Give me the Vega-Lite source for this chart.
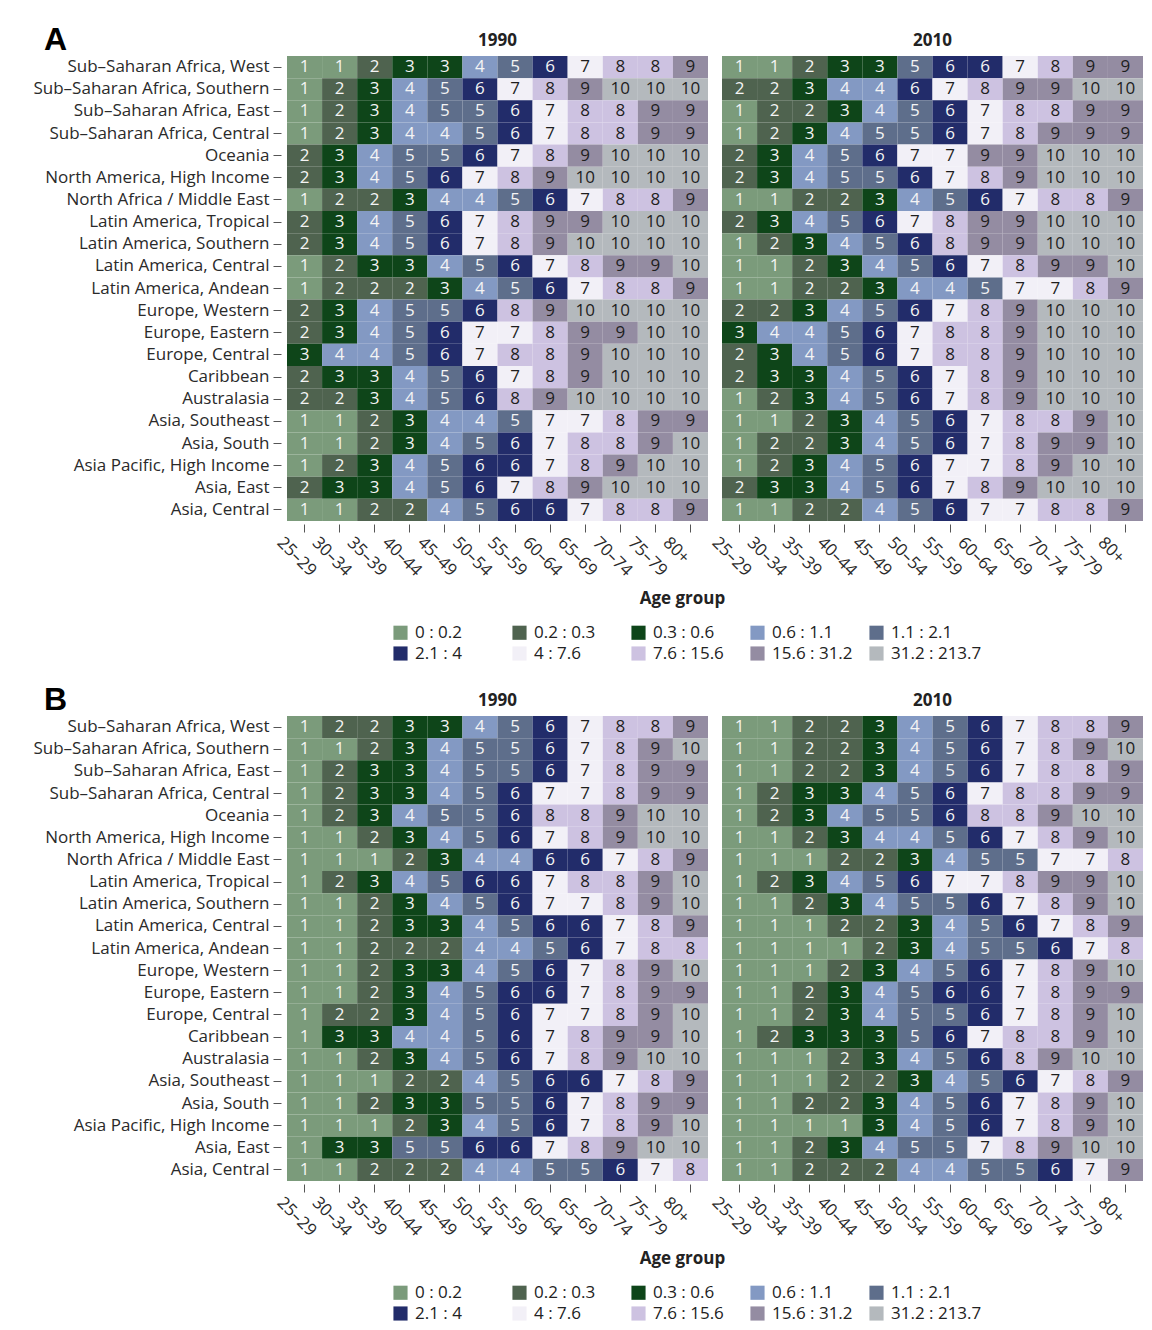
{
"$schema": "https://vega.github.io/schema/vega-lite/v6.json",
"background": "white",
"padding": {"left": 32, "top": 24, "right": 5, "bottom": 3},
"config": {
  "font": "Open Sans",
  "view": {"stroke": null},
  "axis": {"labelFontSize": 17, "labelColor": "#2a2a2a", "tickColor": "#555555", "domain": false, "titleFontSize": 17, "titleFontWeight": "bold", "titleColor": "#222222", "labelLimit": 0},
  "title": {"fontSize": 17, "fontWeight": "bold", "color": "#222222", "offset": 6, "frame": "group"},
  "legend": {"orient": "none", "legendX": 105, "legendY": 568, "direction": "horizontal", "columns": 5, "gridAlign": "all", "symbolType": "square", "symbolSize": 200, "symbolStrokeWidth": 0, "symbolOpacity": 1, "labelFontSize": 17, "labelColor": "#222222", "labelOffset": 6, "columnPadding": 5, "rowPadding": 3}
},
"datasets": {
"A90": [
{"r":"Sub–Saharan Africa, West","a":"25–29","v":1},{"r":"Sub–Saharan Africa, West","a":"30–34","v":1},{"r":"Sub–Saharan Africa, West","a":"35–39","v":2},{"r":"Sub–Saharan Africa, West","a":"40–44","v":3},{"r":"Sub–Saharan Africa, West","a":"45–49","v":3},{"r":"Sub–Saharan Africa, West","a":"50–54","v":4},{"r":"Sub–Saharan Africa, West","a":"55–59","v":5},{"r":"Sub–Saharan Africa, West","a":"60–64","v":6},{"r":"Sub–Saharan Africa, West","a":"65–69","v":7},{"r":"Sub–Saharan Africa, West","a":"70–74","v":8},{"r":"Sub–Saharan Africa, West","a":"75–79","v":8},{"r":"Sub–Saharan Africa, West","a":"80+","v":9},
{"r":"Sub–Saharan Africa, Southern","a":"25–29","v":1},{"r":"Sub–Saharan Africa, Southern","a":"30–34","v":2},{"r":"Sub–Saharan Africa, Southern","a":"35–39","v":3},{"r":"Sub–Saharan Africa, Southern","a":"40–44","v":4},{"r":"Sub–Saharan Africa, Southern","a":"45–49","v":5},{"r":"Sub–Saharan Africa, Southern","a":"50–54","v":6},{"r":"Sub–Saharan Africa, Southern","a":"55–59","v":7},{"r":"Sub–Saharan Africa, Southern","a":"60–64","v":8},{"r":"Sub–Saharan Africa, Southern","a":"65–69","v":9},{"r":"Sub–Saharan Africa, Southern","a":"70–74","v":10},{"r":"Sub–Saharan Africa, Southern","a":"75–79","v":10},{"r":"Sub–Saharan Africa, Southern","a":"80+","v":10},
{"r":"Sub–Saharan Africa, East","a":"25–29","v":1},{"r":"Sub–Saharan Africa, East","a":"30–34","v":2},{"r":"Sub–Saharan Africa, East","a":"35–39","v":3},{"r":"Sub–Saharan Africa, East","a":"40–44","v":4},{"r":"Sub–Saharan Africa, East","a":"45–49","v":5},{"r":"Sub–Saharan Africa, East","a":"50–54","v":5},{"r":"Sub–Saharan Africa, East","a":"55–59","v":6},{"r":"Sub–Saharan Africa, East","a":"60–64","v":7},{"r":"Sub–Saharan Africa, East","a":"65–69","v":8},{"r":"Sub–Saharan Africa, East","a":"70–74","v":8},{"r":"Sub–Saharan Africa, East","a":"75–79","v":9},{"r":"Sub–Saharan Africa, East","a":"80+","v":9},
{"r":"Sub–Saharan Africa, Central","a":"25–29","v":1},{"r":"Sub–Saharan Africa, Central","a":"30–34","v":2},{"r":"Sub–Saharan Africa, Central","a":"35–39","v":3},{"r":"Sub–Saharan Africa, Central","a":"40–44","v":4},{"r":"Sub–Saharan Africa, Central","a":"45–49","v":4},{"r":"Sub–Saharan Africa, Central","a":"50–54","v":5},{"r":"Sub–Saharan Africa, Central","a":"55–59","v":6},{"r":"Sub–Saharan Africa, Central","a":"60–64","v":7},{"r":"Sub–Saharan Africa, Central","a":"65–69","v":8},{"r":"Sub–Saharan Africa, Central","a":"70–74","v":8},{"r":"Sub–Saharan Africa, Central","a":"75–79","v":9},{"r":"Sub–Saharan Africa, Central","a":"80+","v":9},
{"r":"Oceania","a":"25–29","v":2},{"r":"Oceania","a":"30–34","v":3},{"r":"Oceania","a":"35–39","v":4},{"r":"Oceania","a":"40–44","v":5},{"r":"Oceania","a":"45–49","v":5},{"r":"Oceania","a":"50–54","v":6},{"r":"Oceania","a":"55–59","v":7},{"r":"Oceania","a":"60–64","v":8},{"r":"Oceania","a":"65–69","v":9},{"r":"Oceania","a":"70–74","v":10},{"r":"Oceania","a":"75–79","v":10},{"r":"Oceania","a":"80+","v":10},
{"r":"North America, High Income","a":"25–29","v":2},{"r":"North America, High Income","a":"30–34","v":3},{"r":"North America, High Income","a":"35–39","v":4},{"r":"North America, High Income","a":"40–44","v":5},{"r":"North America, High Income","a":"45–49","v":6},{"r":"North America, High Income","a":"50–54","v":7},{"r":"North America, High Income","a":"55–59","v":8},{"r":"North America, High Income","a":"60–64","v":9},{"r":"North America, High Income","a":"65–69","v":10},{"r":"North America, High Income","a":"70–74","v":10},{"r":"North America, High Income","a":"75–79","v":10},{"r":"North America, High Income","a":"80+","v":10},
{"r":"North Africa / Middle East","a":"25–29","v":1},{"r":"North Africa / Middle East","a":"30–34","v":2},{"r":"North Africa / Middle East","a":"35–39","v":2},{"r":"North Africa / Middle East","a":"40–44","v":3},{"r":"North Africa / Middle East","a":"45–49","v":4},{"r":"North Africa / Middle East","a":"50–54","v":4},{"r":"North Africa / Middle East","a":"55–59","v":5},{"r":"North Africa / Middle East","a":"60–64","v":6},{"r":"North Africa / Middle East","a":"65–69","v":7},{"r":"North Africa / Middle East","a":"70–74","v":8},{"r":"North Africa / Middle East","a":"75–79","v":8},{"r":"North Africa / Middle East","a":"80+","v":9},
{"r":"Latin America, Tropical","a":"25–29","v":2},{"r":"Latin America, Tropical","a":"30–34","v":3},{"r":"Latin America, Tropical","a":"35–39","v":4},{"r":"Latin America, Tropical","a":"40–44","v":5},{"r":"Latin America, Tropical","a":"45–49","v":6},{"r":"Latin America, Tropical","a":"50–54","v":7},{"r":"Latin America, Tropical","a":"55–59","v":8},{"r":"Latin America, Tropical","a":"60–64","v":9},{"r":"Latin America, Tropical","a":"65–69","v":9},{"r":"Latin America, Tropical","a":"70–74","v":10},{"r":"Latin America, Tropical","a":"75–79","v":10},{"r":"Latin America, Tropical","a":"80+","v":10},
{"r":"Latin America, Southern","a":"25–29","v":2},{"r":"Latin America, Southern","a":"30–34","v":3},{"r":"Latin America, Southern","a":"35–39","v":4},{"r":"Latin America, Southern","a":"40–44","v":5},{"r":"Latin America, Southern","a":"45–49","v":6},{"r":"Latin America, Southern","a":"50–54","v":7},{"r":"Latin America, Southern","a":"55–59","v":8},{"r":"Latin America, Southern","a":"60–64","v":9},{"r":"Latin America, Southern","a":"65–69","v":10},{"r":"Latin America, Southern","a":"70–74","v":10},{"r":"Latin America, Southern","a":"75–79","v":10},{"r":"Latin America, Southern","a":"80+","v":10},
{"r":"Latin America, Central","a":"25–29","v":1},{"r":"Latin America, Central","a":"30–34","v":2},{"r":"Latin America, Central","a":"35–39","v":3},{"r":"Latin America, Central","a":"40–44","v":3},{"r":"Latin America, Central","a":"45–49","v":4},{"r":"Latin America, Central","a":"50–54","v":5},{"r":"Latin America, Central","a":"55–59","v":6},{"r":"Latin America, Central","a":"60–64","v":7},{"r":"Latin America, Central","a":"65–69","v":8},{"r":"Latin America, Central","a":"70–74","v":9},{"r":"Latin America, Central","a":"75–79","v":9},{"r":"Latin America, Central","a":"80+","v":10},
{"r":"Latin America, Andean","a":"25–29","v":1},{"r":"Latin America, Andean","a":"30–34","v":2},{"r":"Latin America, Andean","a":"35–39","v":2},{"r":"Latin America, Andean","a":"40–44","v":2},{"r":"Latin America, Andean","a":"45–49","v":3},{"r":"Latin America, Andean","a":"50–54","v":4},{"r":"Latin America, Andean","a":"55–59","v":5},{"r":"Latin America, Andean","a":"60–64","v":6},{"r":"Latin America, Andean","a":"65–69","v":7},{"r":"Latin America, Andean","a":"70–74","v":8},{"r":"Latin America, Andean","a":"75–79","v":8},{"r":"Latin America, Andean","a":"80+","v":9},
{"r":"Europe, Western","a":"25–29","v":2},{"r":"Europe, Western","a":"30–34","v":3},{"r":"Europe, Western","a":"35–39","v":4},{"r":"Europe, Western","a":"40–44","v":5},{"r":"Europe, Western","a":"45–49","v":5},{"r":"Europe, Western","a":"50–54","v":6},{"r":"Europe, Western","a":"55–59","v":8},{"r":"Europe, Western","a":"60–64","v":9},{"r":"Europe, Western","a":"65–69","v":10},{"r":"Europe, Western","a":"70–74","v":10},{"r":"Europe, Western","a":"75–79","v":10},{"r":"Europe, Western","a":"80+","v":10},
{"r":"Europe, Eastern","a":"25–29","v":2},{"r":"Europe, Eastern","a":"30–34","v":3},{"r":"Europe, Eastern","a":"35–39","v":4},{"r":"Europe, Eastern","a":"40–44","v":5},{"r":"Europe, Eastern","a":"45–49","v":6},{"r":"Europe, Eastern","a":"50–54","v":7},{"r":"Europe, Eastern","a":"55–59","v":7},{"r":"Europe, Eastern","a":"60–64","v":8},{"r":"Europe, Eastern","a":"65–69","v":9},{"r":"Europe, Eastern","a":"70–74","v":9},{"r":"Europe, Eastern","a":"75–79","v":10},{"r":"Europe, Eastern","a":"80+","v":10},
{"r":"Europe, Central","a":"25–29","v":3},{"r":"Europe, Central","a":"30–34","v":4},{"r":"Europe, Central","a":"35–39","v":4},{"r":"Europe, Central","a":"40–44","v":5},{"r":"Europe, Central","a":"45–49","v":6},{"r":"Europe, Central","a":"50–54","v":7},{"r":"Europe, Central","a":"55–59","v":8},{"r":"Europe, Central","a":"60–64","v":8},{"r":"Europe, Central","a":"65–69","v":9},{"r":"Europe, Central","a":"70–74","v":10},{"r":"Europe, Central","a":"75–79","v":10},{"r":"Europe, Central","a":"80+","v":10},
{"r":"Caribbean","a":"25–29","v":2},{"r":"Caribbean","a":"30–34","v":3},{"r":"Caribbean","a":"35–39","v":3},{"r":"Caribbean","a":"40–44","v":4},{"r":"Caribbean","a":"45–49","v":5},{"r":"Caribbean","a":"50–54","v":6},{"r":"Caribbean","a":"55–59","v":7},{"r":"Caribbean","a":"60–64","v":8},{"r":"Caribbean","a":"65–69","v":9},{"r":"Caribbean","a":"70–74","v":10},{"r":"Caribbean","a":"75–79","v":10},{"r":"Caribbean","a":"80+","v":10},
{"r":"Australasia","a":"25–29","v":2},{"r":"Australasia","a":"30–34","v":2},{"r":"Australasia","a":"35–39","v":3},{"r":"Australasia","a":"40–44","v":4},{"r":"Australasia","a":"45–49","v":5},{"r":"Australasia","a":"50–54","v":6},{"r":"Australasia","a":"55–59","v":8},{"r":"Australasia","a":"60–64","v":9},{"r":"Australasia","a":"65–69","v":10},{"r":"Australasia","a":"70–74","v":10},{"r":"Australasia","a":"75–79","v":10},{"r":"Australasia","a":"80+","v":10},
{"r":"Asia, Southeast","a":"25–29","v":1},{"r":"Asia, Southeast","a":"30–34","v":1},{"r":"Asia, Southeast","a":"35–39","v":2},{"r":"Asia, Southeast","a":"40–44","v":3},{"r":"Asia, Southeast","a":"45–49","v":4},{"r":"Asia, Southeast","a":"50–54","v":4},{"r":"Asia, Southeast","a":"55–59","v":5},{"r":"Asia, Southeast","a":"60–64","v":7},{"r":"Asia, Southeast","a":"65–69","v":7},{"r":"Asia, Southeast","a":"70–74","v":8},{"r":"Asia, Southeast","a":"75–79","v":9},{"r":"Asia, Southeast","a":"80+","v":9},
{"r":"Asia, South","a":"25–29","v":1},{"r":"Asia, South","a":"30–34","v":1},{"r":"Asia, South","a":"35–39","v":2},{"r":"Asia, South","a":"40–44","v":3},{"r":"Asia, South","a":"45–49","v":4},{"r":"Asia, South","a":"50–54","v":5},{"r":"Asia, South","a":"55–59","v":6},{"r":"Asia, South","a":"60–64","v":7},{"r":"Asia, South","a":"65–69","v":8},{"r":"Asia, South","a":"70–74","v":8},{"r":"Asia, South","a":"75–79","v":9},{"r":"Asia, South","a":"80+","v":10},
{"r":"Asia Pacific, High Income","a":"25–29","v":1},{"r":"Asia Pacific, High Income","a":"30–34","v":2},{"r":"Asia Pacific, High Income","a":"35–39","v":3},{"r":"Asia Pacific, High Income","a":"40–44","v":4},{"r":"Asia Pacific, High Income","a":"45–49","v":5},{"r":"Asia Pacific, High Income","a":"50–54","v":6},{"r":"Asia Pacific, High Income","a":"55–59","v":6},{"r":"Asia Pacific, High Income","a":"60–64","v":7},{"r":"Asia Pacific, High Income","a":"65–69","v":8},{"r":"Asia Pacific, High Income","a":"70–74","v":9},{"r":"Asia Pacific, High Income","a":"75–79","v":10},{"r":"Asia Pacific, High Income","a":"80+","v":10},
{"r":"Asia, East","a":"25–29","v":2},{"r":"Asia, East","a":"30–34","v":3},{"r":"Asia, East","a":"35–39","v":3},{"r":"Asia, East","a":"40–44","v":4},{"r":"Asia, East","a":"45–49","v":5},{"r":"Asia, East","a":"50–54","v":6},{"r":"Asia, East","a":"55–59","v":7},{"r":"Asia, East","a":"60–64","v":8},{"r":"Asia, East","a":"65–69","v":9},{"r":"Asia, East","a":"70–74","v":10},{"r":"Asia, East","a":"75–79","v":10},{"r":"Asia, East","a":"80+","v":10},
{"r":"Asia, Central","a":"25–29","v":1},{"r":"Asia, Central","a":"30–34","v":1},{"r":"Asia, Central","a":"35–39","v":2},{"r":"Asia, Central","a":"40–44","v":2},{"r":"Asia, Central","a":"45–49","v":4},{"r":"Asia, Central","a":"50–54","v":5},{"r":"Asia, Central","a":"55–59","v":6},{"r":"Asia, Central","a":"60–64","v":6},{"r":"Asia, Central","a":"65–69","v":7},{"r":"Asia, Central","a":"70–74","v":8},{"r":"Asia, Central","a":"75–79","v":8},{"r":"Asia, Central","a":"80+","v":9}
],
"A10": [
{"r":"Sub–Saharan Africa, West","a":"25–29","v":1},{"r":"Sub–Saharan Africa, West","a":"30–34","v":1},{"r":"Sub–Saharan Africa, West","a":"35–39","v":2},{"r":"Sub–Saharan Africa, West","a":"40–44","v":3},{"r":"Sub–Saharan Africa, West","a":"45–49","v":3},{"r":"Sub–Saharan Africa, West","a":"50–54","v":5},{"r":"Sub–Saharan Africa, West","a":"55–59","v":6},{"r":"Sub–Saharan Africa, West","a":"60–64","v":6},{"r":"Sub–Saharan Africa, West","a":"65–69","v":7},{"r":"Sub–Saharan Africa, West","a":"70–74","v":8},{"r":"Sub–Saharan Africa, West","a":"75–79","v":9},{"r":"Sub–Saharan Africa, West","a":"80+","v":9},
{"r":"Sub–Saharan Africa, Southern","a":"25–29","v":2},{"r":"Sub–Saharan Africa, Southern","a":"30–34","v":2},{"r":"Sub–Saharan Africa, Southern","a":"35–39","v":3},{"r":"Sub–Saharan Africa, Southern","a":"40–44","v":4},{"r":"Sub–Saharan Africa, Southern","a":"45–49","v":4},{"r":"Sub–Saharan Africa, Southern","a":"50–54","v":6},{"r":"Sub–Saharan Africa, Southern","a":"55–59","v":7},{"r":"Sub–Saharan Africa, Southern","a":"60–64","v":8},{"r":"Sub–Saharan Africa, Southern","a":"65–69","v":9},{"r":"Sub–Saharan Africa, Southern","a":"70–74","v":9},{"r":"Sub–Saharan Africa, Southern","a":"75–79","v":10},{"r":"Sub–Saharan Africa, Southern","a":"80+","v":10},
{"r":"Sub–Saharan Africa, East","a":"25–29","v":1},{"r":"Sub–Saharan Africa, East","a":"30–34","v":2},{"r":"Sub–Saharan Africa, East","a":"35–39","v":2},{"r":"Sub–Saharan Africa, East","a":"40–44","v":3},{"r":"Sub–Saharan Africa, East","a":"45–49","v":4},{"r":"Sub–Saharan Africa, East","a":"50–54","v":5},{"r":"Sub–Saharan Africa, East","a":"55–59","v":6},{"r":"Sub–Saharan Africa, East","a":"60–64","v":7},{"r":"Sub–Saharan Africa, East","a":"65–69","v":8},{"r":"Sub–Saharan Africa, East","a":"70–74","v":8},{"r":"Sub–Saharan Africa, East","a":"75–79","v":9},{"r":"Sub–Saharan Africa, East","a":"80+","v":9},
{"r":"Sub–Saharan Africa, Central","a":"25–29","v":1},{"r":"Sub–Saharan Africa, Central","a":"30–34","v":2},{"r":"Sub–Saharan Africa, Central","a":"35–39","v":3},{"r":"Sub–Saharan Africa, Central","a":"40–44","v":4},{"r":"Sub–Saharan Africa, Central","a":"45–49","v":5},{"r":"Sub–Saharan Africa, Central","a":"50–54","v":5},{"r":"Sub–Saharan Africa, Central","a":"55–59","v":6},{"r":"Sub–Saharan Africa, Central","a":"60–64","v":7},{"r":"Sub–Saharan Africa, Central","a":"65–69","v":8},{"r":"Sub–Saharan Africa, Central","a":"70–74","v":9},{"r":"Sub–Saharan Africa, Central","a":"75–79","v":9},{"r":"Sub–Saharan Africa, Central","a":"80+","v":9},
{"r":"Oceania","a":"25–29","v":2},{"r":"Oceania","a":"30–34","v":3},{"r":"Oceania","a":"35–39","v":4},{"r":"Oceania","a":"40–44","v":5},{"r":"Oceania","a":"45–49","v":6},{"r":"Oceania","a":"50–54","v":7},{"r":"Oceania","a":"55–59","v":7},{"r":"Oceania","a":"60–64","v":9},{"r":"Oceania","a":"65–69","v":9},{"r":"Oceania","a":"70–74","v":10},{"r":"Oceania","a":"75–79","v":10},{"r":"Oceania","a":"80+","v":10},
{"r":"North America, High Income","a":"25–29","v":2},{"r":"North America, High Income","a":"30–34","v":3},{"r":"North America, High Income","a":"35–39","v":4},{"r":"North America, High Income","a":"40–44","v":5},{"r":"North America, High Income","a":"45–49","v":5},{"r":"North America, High Income","a":"50–54","v":6},{"r":"North America, High Income","a":"55–59","v":7},{"r":"North America, High Income","a":"60–64","v":8},{"r":"North America, High Income","a":"65–69","v":9},{"r":"North America, High Income","a":"70–74","v":10},{"r":"North America, High Income","a":"75–79","v":10},{"r":"North America, High Income","a":"80+","v":10},
{"r":"North Africa / Middle East","a":"25–29","v":1},{"r":"North Africa / Middle East","a":"30–34","v":1},{"r":"North Africa / Middle East","a":"35–39","v":2},{"r":"North Africa / Middle East","a":"40–44","v":2},{"r":"North Africa / Middle East","a":"45–49","v":3},{"r":"North Africa / Middle East","a":"50–54","v":4},{"r":"North Africa / Middle East","a":"55–59","v":5},{"r":"North Africa / Middle East","a":"60–64","v":6},{"r":"North Africa / Middle East","a":"65–69","v":7},{"r":"North Africa / Middle East","a":"70–74","v":8},{"r":"North Africa / Middle East","a":"75–79","v":8},{"r":"North Africa / Middle East","a":"80+","v":9},
{"r":"Latin America, Tropical","a":"25–29","v":2},{"r":"Latin America, Tropical","a":"30–34","v":3},{"r":"Latin America, Tropical","a":"35–39","v":4},{"r":"Latin America, Tropical","a":"40–44","v":5},{"r":"Latin America, Tropical","a":"45–49","v":6},{"r":"Latin America, Tropical","a":"50–54","v":7},{"r":"Latin America, Tropical","a":"55–59","v":8},{"r":"Latin America, Tropical","a":"60–64","v":9},{"r":"Latin America, Tropical","a":"65–69","v":9},{"r":"Latin America, Tropical","a":"70–74","v":10},{"r":"Latin America, Tropical","a":"75–79","v":10},{"r":"Latin America, Tropical","a":"80+","v":10},
{"r":"Latin America, Southern","a":"25–29","v":1},{"r":"Latin America, Southern","a":"30–34","v":2},{"r":"Latin America, Southern","a":"35–39","v":3},{"r":"Latin America, Southern","a":"40–44","v":4},{"r":"Latin America, Southern","a":"45–49","v":5},{"r":"Latin America, Southern","a":"50–54","v":6},{"r":"Latin America, Southern","a":"55–59","v":8},{"r":"Latin America, Southern","a":"60–64","v":9},{"r":"Latin America, Southern","a":"65–69","v":9},{"r":"Latin America, Southern","a":"70–74","v":10},{"r":"Latin America, Southern","a":"75–79","v":10},{"r":"Latin America, Southern","a":"80+","v":10},
{"r":"Latin America, Central","a":"25–29","v":1},{"r":"Latin America, Central","a":"30–34","v":1},{"r":"Latin America, Central","a":"35–39","v":2},{"r":"Latin America, Central","a":"40–44","v":3},{"r":"Latin America, Central","a":"45–49","v":4},{"r":"Latin America, Central","a":"50–54","v":5},{"r":"Latin America, Central","a":"55–59","v":6},{"r":"Latin America, Central","a":"60–64","v":7},{"r":"Latin America, Central","a":"65–69","v":8},{"r":"Latin America, Central","a":"70–74","v":9},{"r":"Latin America, Central","a":"75–79","v":9},{"r":"Latin America, Central","a":"80+","v":10},
{"r":"Latin America, Andean","a":"25–29","v":1},{"r":"Latin America, Andean","a":"30–34","v":1},{"r":"Latin America, Andean","a":"35–39","v":2},{"r":"Latin America, Andean","a":"40–44","v":2},{"r":"Latin America, Andean","a":"45–49","v":3},{"r":"Latin America, Andean","a":"50–54","v":4},{"r":"Latin America, Andean","a":"55–59","v":4},{"r":"Latin America, Andean","a":"60–64","v":5},{"r":"Latin America, Andean","a":"65–69","v":7},{"r":"Latin America, Andean","a":"70–74","v":7},{"r":"Latin America, Andean","a":"75–79","v":8},{"r":"Latin America, Andean","a":"80+","v":9},
{"r":"Europe, Western","a":"25–29","v":2},{"r":"Europe, Western","a":"30–34","v":2},{"r":"Europe, Western","a":"35–39","v":3},{"r":"Europe, Western","a":"40–44","v":4},{"r":"Europe, Western","a":"45–49","v":5},{"r":"Europe, Western","a":"50–54","v":6},{"r":"Europe, Western","a":"55–59","v":7},{"r":"Europe, Western","a":"60–64","v":8},{"r":"Europe, Western","a":"65–69","v":9},{"r":"Europe, Western","a":"70–74","v":10},{"r":"Europe, Western","a":"75–79","v":10},{"r":"Europe, Western","a":"80+","v":10},
{"r":"Europe, Eastern","a":"25–29","v":3},{"r":"Europe, Eastern","a":"30–34","v":4},{"r":"Europe, Eastern","a":"35–39","v":4},{"r":"Europe, Eastern","a":"40–44","v":5},{"r":"Europe, Eastern","a":"45–49","v":6},{"r":"Europe, Eastern","a":"50–54","v":7},{"r":"Europe, Eastern","a":"55–59","v":8},{"r":"Europe, Eastern","a":"60–64","v":8},{"r":"Europe, Eastern","a":"65–69","v":9},{"r":"Europe, Eastern","a":"70–74","v":10},{"r":"Europe, Eastern","a":"75–79","v":10},{"r":"Europe, Eastern","a":"80+","v":10},
{"r":"Europe, Central","a":"25–29","v":2},{"r":"Europe, Central","a":"30–34","v":3},{"r":"Europe, Central","a":"35–39","v":4},{"r":"Europe, Central","a":"40–44","v":5},{"r":"Europe, Central","a":"45–49","v":6},{"r":"Europe, Central","a":"50–54","v":7},{"r":"Europe, Central","a":"55–59","v":8},{"r":"Europe, Central","a":"60–64","v":8},{"r":"Europe, Central","a":"65–69","v":9},{"r":"Europe, Central","a":"70–74","v":10},{"r":"Europe, Central","a":"75–79","v":10},{"r":"Europe, Central","a":"80+","v":10},
{"r":"Caribbean","a":"25–29","v":2},{"r":"Caribbean","a":"30–34","v":3},{"r":"Caribbean","a":"35–39","v":3},{"r":"Caribbean","a":"40–44","v":4},{"r":"Caribbean","a":"45–49","v":5},{"r":"Caribbean","a":"50–54","v":6},{"r":"Caribbean","a":"55–59","v":7},{"r":"Caribbean","a":"60–64","v":8},{"r":"Caribbean","a":"65–69","v":9},{"r":"Caribbean","a":"70–74","v":10},{"r":"Caribbean","a":"75–79","v":10},{"r":"Caribbean","a":"80+","v":10},
{"r":"Australasia","a":"25–29","v":1},{"r":"Australasia","a":"30–34","v":2},{"r":"Australasia","a":"35–39","v":3},{"r":"Australasia","a":"40–44","v":4},{"r":"Australasia","a":"45–49","v":5},{"r":"Australasia","a":"50–54","v":6},{"r":"Australasia","a":"55–59","v":7},{"r":"Australasia","a":"60–64","v":8},{"r":"Australasia","a":"65–69","v":9},{"r":"Australasia","a":"70–74","v":10},{"r":"Australasia","a":"75–79","v":10},{"r":"Australasia","a":"80+","v":10},
{"r":"Asia, Southeast","a":"25–29","v":1},{"r":"Asia, Southeast","a":"30–34","v":1},{"r":"Asia, Southeast","a":"35–39","v":2},{"r":"Asia, Southeast","a":"40–44","v":3},{"r":"Asia, Southeast","a":"45–49","v":4},{"r":"Asia, Southeast","a":"50–54","v":5},{"r":"Asia, Southeast","a":"55–59","v":6},{"r":"Asia, Southeast","a":"60–64","v":7},{"r":"Asia, Southeast","a":"65–69","v":8},{"r":"Asia, Southeast","a":"70–74","v":8},{"r":"Asia, Southeast","a":"75–79","v":9},{"r":"Asia, Southeast","a":"80+","v":10},
{"r":"Asia, South","a":"25–29","v":1},{"r":"Asia, South","a":"30–34","v":2},{"r":"Asia, South","a":"35–39","v":2},{"r":"Asia, South","a":"40–44","v":3},{"r":"Asia, South","a":"45–49","v":4},{"r":"Asia, South","a":"50–54","v":5},{"r":"Asia, South","a":"55–59","v":6},{"r":"Asia, South","a":"60–64","v":7},{"r":"Asia, South","a":"65–69","v":8},{"r":"Asia, South","a":"70–74","v":9},{"r":"Asia, South","a":"75–79","v":9},{"r":"Asia, South","a":"80+","v":10},
{"r":"Asia Pacific, High Income","a":"25–29","v":1},{"r":"Asia Pacific, High Income","a":"30–34","v":2},{"r":"Asia Pacific, High Income","a":"35–39","v":3},{"r":"Asia Pacific, High Income","a":"40–44","v":4},{"r":"Asia Pacific, High Income","a":"45–49","v":5},{"r":"Asia Pacific, High Income","a":"50–54","v":6},{"r":"Asia Pacific, High Income","a":"55–59","v":7},{"r":"Asia Pacific, High Income","a":"60–64","v":7},{"r":"Asia Pacific, High Income","a":"65–69","v":8},{"r":"Asia Pacific, High Income","a":"70–74","v":9},{"r":"Asia Pacific, High Income","a":"75–79","v":10},{"r":"Asia Pacific, High Income","a":"80+","v":10},
{"r":"Asia, East","a":"25–29","v":2},{"r":"Asia, East","a":"30–34","v":3},{"r":"Asia, East","a":"35–39","v":3},{"r":"Asia, East","a":"40–44","v":4},{"r":"Asia, East","a":"45–49","v":5},{"r":"Asia, East","a":"50–54","v":6},{"r":"Asia, East","a":"55–59","v":7},{"r":"Asia, East","a":"60–64","v":8},{"r":"Asia, East","a":"65–69","v":9},{"r":"Asia, East","a":"70–74","v":10},{"r":"Asia, East","a":"75–79","v":10},{"r":"Asia, East","a":"80+","v":10},
{"r":"Asia, Central","a":"25–29","v":1},{"r":"Asia, Central","a":"30–34","v":1},{"r":"Asia, Central","a":"35–39","v":2},{"r":"Asia, Central","a":"40–44","v":2},{"r":"Asia, Central","a":"45–49","v":4},{"r":"Asia, Central","a":"50–54","v":5},{"r":"Asia, Central","a":"55–59","v":6},{"r":"Asia, Central","a":"60–64","v":7},{"r":"Asia, Central","a":"65–69","v":7},{"r":"Asia, Central","a":"70–74","v":8},{"r":"Asia, Central","a":"75–79","v":8},{"r":"Asia, Central","a":"80+","v":9}
],
"B90": [
{"r":"Sub–Saharan Africa, West","a":"25–29","v":1},{"r":"Sub–Saharan Africa, West","a":"30–34","v":2},{"r":"Sub–Saharan Africa, West","a":"35–39","v":2},{"r":"Sub–Saharan Africa, West","a":"40–44","v":3},{"r":"Sub–Saharan Africa, West","a":"45–49","v":3},{"r":"Sub–Saharan Africa, West","a":"50–54","v":4},{"r":"Sub–Saharan Africa, West","a":"55–59","v":5},{"r":"Sub–Saharan Africa, West","a":"60–64","v":6},{"r":"Sub–Saharan Africa, West","a":"65–69","v":7},{"r":"Sub–Saharan Africa, West","a":"70–74","v":8},{"r":"Sub–Saharan Africa, West","a":"75–79","v":8},{"r":"Sub–Saharan Africa, West","a":"80+","v":9},
{"r":"Sub–Saharan Africa, Southern","a":"25–29","v":1},{"r":"Sub–Saharan Africa, Southern","a":"30–34","v":1},{"r":"Sub–Saharan Africa, Southern","a":"35–39","v":2},{"r":"Sub–Saharan Africa, Southern","a":"40–44","v":3},{"r":"Sub–Saharan Africa, Southern","a":"45–49","v":4},{"r":"Sub–Saharan Africa, Southern","a":"50–54","v":5},{"r":"Sub–Saharan Africa, Southern","a":"55–59","v":5},{"r":"Sub–Saharan Africa, Southern","a":"60–64","v":6},{"r":"Sub–Saharan Africa, Southern","a":"65–69","v":7},{"r":"Sub–Saharan Africa, Southern","a":"70–74","v":8},{"r":"Sub–Saharan Africa, Southern","a":"75–79","v":9},{"r":"Sub–Saharan Africa, Southern","a":"80+","v":10},
{"r":"Sub–Saharan Africa, East","a":"25–29","v":1},{"r":"Sub–Saharan Africa, East","a":"30–34","v":2},{"r":"Sub–Saharan Africa, East","a":"35–39","v":3},{"r":"Sub–Saharan Africa, East","a":"40–44","v":3},{"r":"Sub–Saharan Africa, East","a":"45–49","v":4},{"r":"Sub–Saharan Africa, East","a":"50–54","v":5},{"r":"Sub–Saharan Africa, East","a":"55–59","v":5},{"r":"Sub–Saharan Africa, East","a":"60–64","v":6},{"r":"Sub–Saharan Africa, East","a":"65–69","v":7},{"r":"Sub–Saharan Africa, East","a":"70–74","v":8},{"r":"Sub–Saharan Africa, East","a":"75–79","v":9},{"r":"Sub–Saharan Africa, East","a":"80+","v":9},
{"r":"Sub–Saharan Africa, Central","a":"25–29","v":1},{"r":"Sub–Saharan Africa, Central","a":"30–34","v":2},{"r":"Sub–Saharan Africa, Central","a":"35–39","v":3},{"r":"Sub–Saharan Africa, Central","a":"40–44","v":3},{"r":"Sub–Saharan Africa, Central","a":"45–49","v":4},{"r":"Sub–Saharan Africa, Central","a":"50–54","v":5},{"r":"Sub–Saharan Africa, Central","a":"55–59","v":6},{"r":"Sub–Saharan Africa, Central","a":"60–64","v":7},{"r":"Sub–Saharan Africa, Central","a":"65–69","v":7},{"r":"Sub–Saharan Africa, Central","a":"70–74","v":8},{"r":"Sub–Saharan Africa, Central","a":"75–79","v":9},{"r":"Sub–Saharan Africa, Central","a":"80+","v":9},
{"r":"Oceania","a":"25–29","v":1},{"r":"Oceania","a":"30–34","v":2},{"r":"Oceania","a":"35–39","v":3},{"r":"Oceania","a":"40–44","v":4},{"r":"Oceania","a":"45–49","v":5},{"r":"Oceania","a":"50–54","v":5},{"r":"Oceania","a":"55–59","v":6},{"r":"Oceania","a":"60–64","v":8},{"r":"Oceania","a":"65–69","v":8},{"r":"Oceania","a":"70–74","v":9},{"r":"Oceania","a":"75–79","v":10},{"r":"Oceania","a":"80+","v":10},
{"r":"North America, High Income","a":"25–29","v":1},{"r":"North America, High Income","a":"30–34","v":1},{"r":"North America, High Income","a":"35–39","v":2},{"r":"North America, High Income","a":"40–44","v":3},{"r":"North America, High Income","a":"45–49","v":4},{"r":"North America, High Income","a":"50–54","v":5},{"r":"North America, High Income","a":"55–59","v":6},{"r":"North America, High Income","a":"60–64","v":7},{"r":"North America, High Income","a":"65–69","v":8},{"r":"North America, High Income","a":"70–74","v":9},{"r":"North America, High Income","a":"75–79","v":10},{"r":"North America, High Income","a":"80+","v":10},
{"r":"North Africa / Middle East","a":"25–29","v":1},{"r":"North Africa / Middle East","a":"30–34","v":1},{"r":"North Africa / Middle East","a":"35–39","v":1},{"r":"North Africa / Middle East","a":"40–44","v":2},{"r":"North Africa / Middle East","a":"45–49","v":3},{"r":"North Africa / Middle East","a":"50–54","v":4},{"r":"North Africa / Middle East","a":"55–59","v":4},{"r":"North Africa / Middle East","a":"60–64","v":6},{"r":"North Africa / Middle East","a":"65–69","v":6},{"r":"North Africa / Middle East","a":"70–74","v":7},{"r":"North Africa / Middle East","a":"75–79","v":8},{"r":"North Africa / Middle East","a":"80+","v":9},
{"r":"Latin America, Tropical","a":"25–29","v":1},{"r":"Latin America, Tropical","a":"30–34","v":2},{"r":"Latin America, Tropical","a":"35–39","v":3},{"r":"Latin America, Tropical","a":"40–44","v":4},{"r":"Latin America, Tropical","a":"45–49","v":5},{"r":"Latin America, Tropical","a":"50–54","v":6},{"r":"Latin America, Tropical","a":"55–59","v":6},{"r":"Latin America, Tropical","a":"60–64","v":7},{"r":"Latin America, Tropical","a":"65–69","v":8},{"r":"Latin America, Tropical","a":"70–74","v":8},{"r":"Latin America, Tropical","a":"75–79","v":9},{"r":"Latin America, Tropical","a":"80+","v":10},
{"r":"Latin America, Southern","a":"25–29","v":1},{"r":"Latin America, Southern","a":"30–34","v":1},{"r":"Latin America, Southern","a":"35–39","v":2},{"r":"Latin America, Southern","a":"40–44","v":3},{"r":"Latin America, Southern","a":"45–49","v":4},{"r":"Latin America, Southern","a":"50–54","v":5},{"r":"Latin America, Southern","a":"55–59","v":6},{"r":"Latin America, Southern","a":"60–64","v":7},{"r":"Latin America, Southern","a":"65–69","v":7},{"r":"Latin America, Southern","a":"70–74","v":8},{"r":"Latin America, Southern","a":"75–79","v":9},{"r":"Latin America, Southern","a":"80+","v":10},
{"r":"Latin America, Central","a":"25–29","v":1},{"r":"Latin America, Central","a":"30–34","v":1},{"r":"Latin America, Central","a":"35–39","v":2},{"r":"Latin America, Central","a":"40–44","v":3},{"r":"Latin America, Central","a":"45–49","v":3},{"r":"Latin America, Central","a":"50–54","v":4},{"r":"Latin America, Central","a":"55–59","v":5},{"r":"Latin America, Central","a":"60–64","v":6},{"r":"Latin America, Central","a":"65–69","v":6},{"r":"Latin America, Central","a":"70–74","v":7},{"r":"Latin America, Central","a":"75–79","v":8},{"r":"Latin America, Central","a":"80+","v":9},
{"r":"Latin America, Andean","a":"25–29","v":1},{"r":"Latin America, Andean","a":"30–34","v":1},{"r":"Latin America, Andean","a":"35–39","v":2},{"r":"Latin America, Andean","a":"40–44","v":2},{"r":"Latin America, Andean","a":"45–49","v":2},{"r":"Latin America, Andean","a":"50–54","v":4},{"r":"Latin America, Andean","a":"55–59","v":4},{"r":"Latin America, Andean","a":"60–64","v":5},{"r":"Latin America, Andean","a":"65–69","v":6},{"r":"Latin America, Andean","a":"70–74","v":7},{"r":"Latin America, Andean","a":"75–79","v":8},{"r":"Latin America, Andean","a":"80+","v":8},
{"r":"Europe, Western","a":"25–29","v":1},{"r":"Europe, Western","a":"30–34","v":1},{"r":"Europe, Western","a":"35–39","v":2},{"r":"Europe, Western","a":"40–44","v":3},{"r":"Europe, Western","a":"45–49","v":3},{"r":"Europe, Western","a":"50–54","v":4},{"r":"Europe, Western","a":"55–59","v":5},{"r":"Europe, Western","a":"60–64","v":6},{"r":"Europe, Western","a":"65–69","v":7},{"r":"Europe, Western","a":"70–74","v":8},{"r":"Europe, Western","a":"75–79","v":9},{"r":"Europe, Western","a":"80+","v":10},
{"r":"Europe, Eastern","a":"25–29","v":1},{"r":"Europe, Eastern","a":"30–34","v":1},{"r":"Europe, Eastern","a":"35–39","v":2},{"r":"Europe, Eastern","a":"40–44","v":3},{"r":"Europe, Eastern","a":"45–49","v":4},{"r":"Europe, Eastern","a":"50–54","v":5},{"r":"Europe, Eastern","a":"55–59","v":6},{"r":"Europe, Eastern","a":"60–64","v":6},{"r":"Europe, Eastern","a":"65–69","v":7},{"r":"Europe, Eastern","a":"70–74","v":8},{"r":"Europe, Eastern","a":"75–79","v":9},{"r":"Europe, Eastern","a":"80+","v":9},
{"r":"Europe, Central","a":"25–29","v":1},{"r":"Europe, Central","a":"30–34","v":2},{"r":"Europe, Central","a":"35–39","v":2},{"r":"Europe, Central","a":"40–44","v":3},{"r":"Europe, Central","a":"45–49","v":4},{"r":"Europe, Central","a":"50–54","v":5},{"r":"Europe, Central","a":"55–59","v":6},{"r":"Europe, Central","a":"60–64","v":7},{"r":"Europe, Central","a":"65–69","v":7},{"r":"Europe, Central","a":"70–74","v":8},{"r":"Europe, Central","a":"75–79","v":9},{"r":"Europe, Central","a":"80+","v":10},
{"r":"Caribbean","a":"25–29","v":1},{"r":"Caribbean","a":"30–34","v":3},{"r":"Caribbean","a":"35–39","v":3},{"r":"Caribbean","a":"40–44","v":4},{"r":"Caribbean","a":"45–49","v":4},{"r":"Caribbean","a":"50–54","v":5},{"r":"Caribbean","a":"55–59","v":6},{"r":"Caribbean","a":"60–64","v":7},{"r":"Caribbean","a":"65–69","v":8},{"r":"Caribbean","a":"70–74","v":9},{"r":"Caribbean","a":"75–79","v":9},{"r":"Caribbean","a":"80+","v":10},
{"r":"Australasia","a":"25–29","v":1},{"r":"Australasia","a":"30–34","v":1},{"r":"Australasia","a":"35–39","v":2},{"r":"Australasia","a":"40–44","v":3},{"r":"Australasia","a":"45–49","v":4},{"r":"Australasia","a":"50–54","v":5},{"r":"Australasia","a":"55–59","v":6},{"r":"Australasia","a":"60–64","v":7},{"r":"Australasia","a":"65–69","v":8},{"r":"Australasia","a":"70–74","v":9},{"r":"Australasia","a":"75–79","v":10},{"r":"Australasia","a":"80+","v":10},
{"r":"Asia, Southeast","a":"25–29","v":1},{"r":"Asia, Southeast","a":"30–34","v":1},{"r":"Asia, Southeast","a":"35–39","v":1},{"r":"Asia, Southeast","a":"40–44","v":2},{"r":"Asia, Southeast","a":"45–49","v":2},{"r":"Asia, Southeast","a":"50–54","v":4},{"r":"Asia, Southeast","a":"55–59","v":5},{"r":"Asia, Southeast","a":"60–64","v":6},{"r":"Asia, Southeast","a":"65–69","v":6},{"r":"Asia, Southeast","a":"70–74","v":7},{"r":"Asia, Southeast","a":"75–79","v":8},{"r":"Asia, Southeast","a":"80+","v":9},
{"r":"Asia, South","a":"25–29","v":1},{"r":"Asia, South","a":"30–34","v":1},{"r":"Asia, South","a":"35–39","v":2},{"r":"Asia, South","a":"40–44","v":3},{"r":"Asia, South","a":"45–49","v":3},{"r":"Asia, South","a":"50–54","v":5},{"r":"Asia, South","a":"55–59","v":5},{"r":"Asia, South","a":"60–64","v":6},{"r":"Asia, South","a":"65–69","v":7},{"r":"Asia, South","a":"70–74","v":8},{"r":"Asia, South","a":"75–79","v":9},{"r":"Asia, South","a":"80+","v":9},
{"r":"Asia Pacific, High Income","a":"25–29","v":1},{"r":"Asia Pacific, High Income","a":"30–34","v":1},{"r":"Asia Pacific, High Income","a":"35–39","v":1},{"r":"Asia Pacific, High Income","a":"40–44","v":2},{"r":"Asia Pacific, High Income","a":"45–49","v":3},{"r":"Asia Pacific, High Income","a":"50–54","v":4},{"r":"Asia Pacific, High Income","a":"55–59","v":5},{"r":"Asia Pacific, High Income","a":"60–64","v":6},{"r":"Asia Pacific, High Income","a":"65–69","v":7},{"r":"Asia Pacific, High Income","a":"70–74","v":8},{"r":"Asia Pacific, High Income","a":"75–79","v":9},{"r":"Asia Pacific, High Income","a":"80+","v":10},
{"r":"Asia, East","a":"25–29","v":1},{"r":"Asia, East","a":"30–34","v":3},{"r":"Asia, East","a":"35–39","v":3},{"r":"Asia, East","a":"40–44","v":5},{"r":"Asia, East","a":"45–49","v":5},{"r":"Asia, East","a":"50–54","v":6},{"r":"Asia, East","a":"55–59","v":6},{"r":"Asia, East","a":"60–64","v":7},{"r":"Asia, East","a":"65–69","v":8},{"r":"Asia, East","a":"70–74","v":9},{"r":"Asia, East","a":"75–79","v":10},{"r":"Asia, East","a":"80+","v":10},
{"r":"Asia, Central","a":"25–29","v":1},{"r":"Asia, Central","a":"30–34","v":1},{"r":"Asia, Central","a":"35–39","v":2},{"r":"Asia, Central","a":"40–44","v":2},{"r":"Asia, Central","a":"45–49","v":2},{"r":"Asia, Central","a":"50–54","v":4},{"r":"Asia, Central","a":"55–59","v":4},{"r":"Asia, Central","a":"60–64","v":5},{"r":"Asia, Central","a":"65–69","v":5},{"r":"Asia, Central","a":"70–74","v":6},{"r":"Asia, Central","a":"75–79","v":7},{"r":"Asia, Central","a":"80+","v":8}
],
"B10": [
{"r":"Sub–Saharan Africa, West","a":"25–29","v":1},{"r":"Sub–Saharan Africa, West","a":"30–34","v":1},{"r":"Sub–Saharan Africa, West","a":"35–39","v":2},{"r":"Sub–Saharan Africa, West","a":"40–44","v":2},{"r":"Sub–Saharan Africa, West","a":"45–49","v":3},{"r":"Sub–Saharan Africa, West","a":"50–54","v":4},{"r":"Sub–Saharan Africa, West","a":"55–59","v":5},{"r":"Sub–Saharan Africa, West","a":"60–64","v":6},{"r":"Sub–Saharan Africa, West","a":"65–69","v":7},{"r":"Sub–Saharan Africa, West","a":"70–74","v":8},{"r":"Sub–Saharan Africa, West","a":"75–79","v":8},{"r":"Sub–Saharan Africa, West","a":"80+","v":9},
{"r":"Sub–Saharan Africa, Southern","a":"25–29","v":1},{"r":"Sub–Saharan Africa, Southern","a":"30–34","v":1},{"r":"Sub–Saharan Africa, Southern","a":"35–39","v":2},{"r":"Sub–Saharan Africa, Southern","a":"40–44","v":2},{"r":"Sub–Saharan Africa, Southern","a":"45–49","v":3},{"r":"Sub–Saharan Africa, Southern","a":"50–54","v":4},{"r":"Sub–Saharan Africa, Southern","a":"55–59","v":5},{"r":"Sub–Saharan Africa, Southern","a":"60–64","v":6},{"r":"Sub–Saharan Africa, Southern","a":"65–69","v":7},{"r":"Sub–Saharan Africa, Southern","a":"70–74","v":8},{"r":"Sub–Saharan Africa, Southern","a":"75–79","v":9},{"r":"Sub–Saharan Africa, Southern","a":"80+","v":10},
{"r":"Sub–Saharan Africa, East","a":"25–29","v":1},{"r":"Sub–Saharan Africa, East","a":"30–34","v":1},{"r":"Sub–Saharan Africa, East","a":"35–39","v":2},{"r":"Sub–Saharan Africa, East","a":"40–44","v":2},{"r":"Sub–Saharan Africa, East","a":"45–49","v":3},{"r":"Sub–Saharan Africa, East","a":"50–54","v":4},{"r":"Sub–Saharan Africa, East","a":"55–59","v":5},{"r":"Sub–Saharan Africa, East","a":"60–64","v":6},{"r":"Sub–Saharan Africa, East","a":"65–69","v":7},{"r":"Sub–Saharan Africa, East","a":"70–74","v":8},{"r":"Sub–Saharan Africa, East","a":"75–79","v":8},{"r":"Sub–Saharan Africa, East","a":"80+","v":9},
{"r":"Sub–Saharan Africa, Central","a":"25–29","v":1},{"r":"Sub–Saharan Africa, Central","a":"30–34","v":2},{"r":"Sub–Saharan Africa, Central","a":"35–39","v":3},{"r":"Sub–Saharan Africa, Central","a":"40–44","v":3},{"r":"Sub–Saharan Africa, Central","a":"45–49","v":4},{"r":"Sub–Saharan Africa, Central","a":"50–54","v":5},{"r":"Sub–Saharan Africa, Central","a":"55–59","v":6},{"r":"Sub–Saharan Africa, Central","a":"60–64","v":7},{"r":"Sub–Saharan Africa, Central","a":"65–69","v":8},{"r":"Sub–Saharan Africa, Central","a":"70–74","v":8},{"r":"Sub–Saharan Africa, Central","a":"75–79","v":9},{"r":"Sub–Saharan Africa, Central","a":"80+","v":9},
{"r":"Oceania","a":"25–29","v":1},{"r":"Oceania","a":"30–34","v":2},{"r":"Oceania","a":"35–39","v":3},{"r":"Oceania","a":"40–44","v":4},{"r":"Oceania","a":"45–49","v":5},{"r":"Oceania","a":"50–54","v":5},{"r":"Oceania","a":"55–59","v":6},{"r":"Oceania","a":"60–64","v":8},{"r":"Oceania","a":"65–69","v":8},{"r":"Oceania","a":"70–74","v":9},{"r":"Oceania","a":"75–79","v":10},{"r":"Oceania","a":"80+","v":10},
{"r":"North America, High Income","a":"25–29","v":1},{"r":"North America, High Income","a":"30–34","v":1},{"r":"North America, High Income","a":"35–39","v":2},{"r":"North America, High Income","a":"40–44","v":3},{"r":"North America, High Income","a":"45–49","v":4},{"r":"North America, High Income","a":"50–54","v":4},{"r":"North America, High Income","a":"55–59","v":5},{"r":"North America, High Income","a":"60–64","v":6},{"r":"North America, High Income","a":"65–69","v":7},{"r":"North America, High Income","a":"70–74","v":8},{"r":"North America, High Income","a":"75–79","v":9},{"r":"North America, High Income","a":"80+","v":10},
{"r":"North Africa / Middle East","a":"25–29","v":1},{"r":"North Africa / Middle East","a":"30–34","v":1},{"r":"North Africa / Middle East","a":"35–39","v":1},{"r":"North Africa / Middle East","a":"40–44","v":2},{"r":"North Africa / Middle East","a":"45–49","v":2},{"r":"North Africa / Middle East","a":"50–54","v":3},{"r":"North Africa / Middle East","a":"55–59","v":4},{"r":"North Africa / Middle East","a":"60–64","v":5},{"r":"North Africa / Middle East","a":"65–69","v":5},{"r":"North Africa / Middle East","a":"70–74","v":7},{"r":"North Africa / Middle East","a":"75–79","v":7},{"r":"North Africa / Middle East","a":"80+","v":8},
{"r":"Latin America, Tropical","a":"25–29","v":1},{"r":"Latin America, Tropical","a":"30–34","v":2},{"r":"Latin America, Tropical","a":"35–39","v":3},{"r":"Latin America, Tropical","a":"40–44","v":4},{"r":"Latin America, Tropical","a":"45–49","v":5},{"r":"Latin America, Tropical","a":"50–54","v":6},{"r":"Latin America, Tropical","a":"55–59","v":7},{"r":"Latin America, Tropical","a":"60–64","v":7},{"r":"Latin America, Tropical","a":"65–69","v":8},{"r":"Latin America, Tropical","a":"70–74","v":9},{"r":"Latin America, Tropical","a":"75–79","v":9},{"r":"Latin America, Tropical","a":"80+","v":10},
{"r":"Latin America, Southern","a":"25–29","v":1},{"r":"Latin America, Southern","a":"30–34","v":1},{"r":"Latin America, Southern","a":"35–39","v":2},{"r":"Latin America, Southern","a":"40–44","v":3},{"r":"Latin America, Southern","a":"45–49","v":4},{"r":"Latin America, Southern","a":"50–54","v":5},{"r":"Latin America, Southern","a":"55–59","v":5},{"r":"Latin America, Southern","a":"60–64","v":6},{"r":"Latin America, Southern","a":"65–69","v":7},{"r":"Latin America, Southern","a":"70–74","v":8},{"r":"Latin America, Southern","a":"75–79","v":9},{"r":"Latin America, Southern","a":"80+","v":10},
{"r":"Latin America, Central","a":"25–29","v":1},{"r":"Latin America, Central","a":"30–34","v":1},{"r":"Latin America, Central","a":"35–39","v":1},{"r":"Latin America, Central","a":"40–44","v":2},{"r":"Latin America, Central","a":"45–49","v":2},{"r":"Latin America, Central","a":"50–54","v":3},{"r":"Latin America, Central","a":"55–59","v":4},{"r":"Latin America, Central","a":"60–64","v":5},{"r":"Latin America, Central","a":"65–69","v":6},{"r":"Latin America, Central","a":"70–74","v":7},{"r":"Latin America, Central","a":"75–79","v":8},{"r":"Latin America, Central","a":"80+","v":9},
{"r":"Latin America, Andean","a":"25–29","v":1},{"r":"Latin America, Andean","a":"30–34","v":1},{"r":"Latin America, Andean","a":"35–39","v":1},{"r":"Latin America, Andean","a":"40–44","v":1},{"r":"Latin America, Andean","a":"45–49","v":2},{"r":"Latin America, Andean","a":"50–54","v":3},{"r":"Latin America, Andean","a":"55–59","v":4},{"r":"Latin America, Andean","a":"60–64","v":5},{"r":"Latin America, Andean","a":"65–69","v":5},{"r":"Latin America, Andean","a":"70–74","v":6},{"r":"Latin America, Andean","a":"75–79","v":7},{"r":"Latin America, Andean","a":"80+","v":8},
{"r":"Europe, Western","a":"25–29","v":1},{"r":"Europe, Western","a":"30–34","v":1},{"r":"Europe, Western","a":"35–39","v":1},{"r":"Europe, Western","a":"40–44","v":2},{"r":"Europe, Western","a":"45–49","v":3},{"r":"Europe, Western","a":"50–54","v":4},{"r":"Europe, Western","a":"55–59","v":5},{"r":"Europe, Western","a":"60–64","v":6},{"r":"Europe, Western","a":"65–69","v":7},{"r":"Europe, Western","a":"70–74","v":8},{"r":"Europe, Western","a":"75–79","v":9},{"r":"Europe, Western","a":"80+","v":10},
{"r":"Europe, Eastern","a":"25–29","v":1},{"r":"Europe, Eastern","a":"30–34","v":1},{"r":"Europe, Eastern","a":"35–39","v":2},{"r":"Europe, Eastern","a":"40–44","v":3},{"r":"Europe, Eastern","a":"45–49","v":4},{"r":"Europe, Eastern","a":"50–54","v":5},{"r":"Europe, Eastern","a":"55–59","v":6},{"r":"Europe, Eastern","a":"60–64","v":6},{"r":"Europe, Eastern","a":"65–69","v":7},{"r":"Europe, Eastern","a":"70–74","v":8},{"r":"Europe, Eastern","a":"75–79","v":9},{"r":"Europe, Eastern","a":"80+","v":9},
{"r":"Europe, Central","a":"25–29","v":1},{"r":"Europe, Central","a":"30–34","v":1},{"r":"Europe, Central","a":"35–39","v":2},{"r":"Europe, Central","a":"40–44","v":3},{"r":"Europe, Central","a":"45–49","v":4},{"r":"Europe, Central","a":"50–54","v":5},{"r":"Europe, Central","a":"55–59","v":5},{"r":"Europe, Central","a":"60–64","v":6},{"r":"Europe, Central","a":"65–69","v":7},{"r":"Europe, Central","a":"70–74","v":8},{"r":"Europe, Central","a":"75–79","v":9},{"r":"Europe, Central","a":"80+","v":10},
{"r":"Caribbean","a":"25–29","v":1},{"r":"Caribbean","a":"30–34","v":2},{"r":"Caribbean","a":"35–39","v":3},{"r":"Caribbean","a":"40–44","v":3},{"r":"Caribbean","a":"45–49","v":3},{"r":"Caribbean","a":"50–54","v":5},{"r":"Caribbean","a":"55–59","v":6},{"r":"Caribbean","a":"60–64","v":7},{"r":"Caribbean","a":"65–69","v":8},{"r":"Caribbean","a":"70–74","v":8},{"r":"Caribbean","a":"75–79","v":9},{"r":"Caribbean","a":"80+","v":10},
{"r":"Australasia","a":"25–29","v":1},{"r":"Australasia","a":"30–34","v":1},{"r":"Australasia","a":"35–39","v":1},{"r":"Australasia","a":"40–44","v":2},{"r":"Australasia","a":"45–49","v":3},{"r":"Australasia","a":"50–54","v":4},{"r":"Australasia","a":"55–59","v":5},{"r":"Australasia","a":"60–64","v":6},{"r":"Australasia","a":"65–69","v":8},{"r":"Australasia","a":"70–74","v":9},{"r":"Australasia","a":"75–79","v":10},{"r":"Australasia","a":"80+","v":10},
{"r":"Asia, Southeast","a":"25–29","v":1},{"r":"Asia, Southeast","a":"30–34","v":1},{"r":"Asia, Southeast","a":"35–39","v":1},{"r":"Asia, Southeast","a":"40–44","v":2},{"r":"Asia, Southeast","a":"45–49","v":2},{"r":"Asia, Southeast","a":"50–54","v":3},{"r":"Asia, Southeast","a":"55–59","v":4},{"r":"Asia, Southeast","a":"60–64","v":5},{"r":"Asia, Southeast","a":"65–69","v":6},{"r":"Asia, Southeast","a":"70–74","v":7},{"r":"Asia, Southeast","a":"75–79","v":8},{"r":"Asia, Southeast","a":"80+","v":9},
{"r":"Asia, South","a":"25–29","v":1},{"r":"Asia, South","a":"30–34","v":1},{"r":"Asia, South","a":"35–39","v":2},{"r":"Asia, South","a":"40–44","v":2},{"r":"Asia, South","a":"45–49","v":3},{"r":"Asia, South","a":"50–54","v":4},{"r":"Asia, South","a":"55–59","v":5},{"r":"Asia, South","a":"60–64","v":6},{"r":"Asia, South","a":"65–69","v":7},{"r":"Asia, South","a":"70–74","v":8},{"r":"Asia, South","a":"75–79","v":9},{"r":"Asia, South","a":"80+","v":10},
{"r":"Asia Pacific, High Income","a":"25–29","v":1},{"r":"Asia Pacific, High Income","a":"30–34","v":1},{"r":"Asia Pacific, High Income","a":"35–39","v":1},{"r":"Asia Pacific, High Income","a":"40–44","v":1},{"r":"Asia Pacific, High Income","a":"45–49","v":3},{"r":"Asia Pacific, High Income","a":"50–54","v":4},{"r":"Asia Pacific, High Income","a":"55–59","v":5},{"r":"Asia Pacific, High Income","a":"60–64","v":6},{"r":"Asia Pacific, High Income","a":"65–69","v":7},{"r":"Asia Pacific, High Income","a":"70–74","v":8},{"r":"Asia Pacific, High Income","a":"75–79","v":9},{"r":"Asia Pacific, High Income","a":"80+","v":10},
{"r":"Asia, East","a":"25–29","v":1},{"r":"Asia, East","a":"30–34","v":1},{"r":"Asia, East","a":"35–39","v":2},{"r":"Asia, East","a":"40–44","v":3},{"r":"Asia, East","a":"45–49","v":4},{"r":"Asia, East","a":"50–54","v":5},{"r":"Asia, East","a":"55–59","v":5},{"r":"Asia, East","a":"60–64","v":7},{"r":"Asia, East","a":"65–69","v":8},{"r":"Asia, East","a":"70–74","v":9},{"r":"Asia, East","a":"75–79","v":10},{"r":"Asia, East","a":"80+","v":10},
{"r":"Asia, Central","a":"25–29","v":1},{"r":"Asia, Central","a":"30–34","v":1},{"r":"Asia, Central","a":"35–39","v":2},{"r":"Asia, Central","a":"40–44","v":2},{"r":"Asia, Central","a":"45–49","v":2},{"r":"Asia, Central","a":"50–54","v":4},{"r":"Asia, Central","a":"55–59","v":4},{"r":"Asia, Central","a":"60–64","v":5},{"r":"Asia, Central","a":"65–69","v":5},{"r":"Asia, Central","a":"70–74","v":6},{"r":"Asia, Central","a":"75–79","v":7},{"r":"Asia, Central","a":"80+","v":9}
]
},
"resolve": {"scale": {"color": "independent"}, "legend": {"color": "independent"}},
"spacing": 22,
"vconcat": [
{
 "title": {"text": "A", "anchor": "start", "frame": "bounds", "fontSize": 32, "font": "Liberation Sans", "fontWeight": "bold", "color": "#000000", "offset": -25, "dx": 11},
 "bounds": "flush",
 "spacing": 14,
 "hconcat": [
  {
   "data": {"name": "A90"}, "title": "1990", "width": 421, "height": 465,
   "encoding": {
    "x": {"field": "a", "type": "ordinal", "sort": null, "axis": {"title": null, "labelAngle": 45, "labelAlign": "left", "labelBaseline": "top", "labelOffset": -19, "offset": 3, "tickSize": 8, "labelPadding": 2}},
    "y": {"field": "r", "type": "ordinal", "sort": null, "axis": {"title": null, "offset": 6, "tickSize": 8, "labelPadding": 4}}
   },
   "layer": [
    {"mark": "rect", "encoding": {"color": {"field": "v", "type": "nominal", "scale": {"domain": [1,2,3,4,5,6,7,8,9,10], "range": ["#7b9b7b","#4f634f","#0e4519","#8399c3","#5e6e8b","#222c6a","#f2f0f7","#cdc2e1","#948ca2","#b4b9bd"]}, "legend": {"title": null, "labelExpr": "['0 : 0.2','0.2 : 0.3','0.3 : 0.6','0.6 : 1.1','1.1 : 2.1','2.1 : 4','4 : 7.6','7.6 : 15.6','15.6 : 31.2','31.2 : 213.7'][datum.value - 1]"}}}},
    {"mark": {"type": "text", "fontSize": 17}, "encoding": {"text": {"field": "v", "type": "quantitative"}, "color": {"condition": {"test": "datum.v <= 6", "value": "#f4f4f4"}, "value": "#1e1e1e"}}}
   ]
  },
  {
   "data": {"name": "A10"}, "title": "2010", "width": 421, "height": 465,
   "encoding": {
    "x": {"field": "a", "type": "ordinal", "sort": null, "axis": {"title": "Age group", "titleX": -40, "titlePadding": 12, "labelAngle": 45, "labelAlign": "left", "labelBaseline": "top", "labelOffset": -19, "offset": 3, "tickSize": 8, "labelPadding": 2}},
    "y": {"field": "r", "type": "ordinal", "sort": null, "axis": null}
   },
   "layer": [
    {"mark": "rect", "encoding": {"color": {"field": "v", "type": "nominal", "scale": {"domain": [1,2,3,4,5,6,7,8,9,10], "range": ["#7b9b7b","#4f634f","#0e4519","#8399c3","#5e6e8b","#222c6a","#f2f0f7","#cdc2e1","#948ca2","#b4b9bd"]}, "legend": {"title": null, "labelExpr": "['0 : 0.2','0.2 : 0.3','0.3 : 0.6','0.6 : 1.1','1.1 : 2.1','2.1 : 4','4 : 7.6','7.6 : 15.6','15.6 : 31.2','31.2 : 213.7'][datum.value - 1]"}}}},
    {"mark": {"type": "text", "fontSize": 17}, "encoding": {"text": {"field": "v", "type": "quantitative"}, "color": {"condition": {"test": "datum.v <= 6", "value": "#f4f4f4"}, "value": "#1e1e1e"}}}
   ]
  }
 ]
},
{
 "title": {"text": "B", "anchor": "start", "frame": "bounds", "fontSize": 32, "font": "Liberation Sans", "fontWeight": "bold", "color": "#000000", "offset": -25, "dx": 11},
 "bounds": "flush",
 "spacing": 14,
 "hconcat": [
  {
   "data": {"name": "B90"}, "title": "1990", "width": 421, "height": 465,
   "encoding": {
    "x": {"field": "a", "type": "ordinal", "sort": null, "axis": {"title": null, "labelAngle": 45, "labelAlign": "left", "labelBaseline": "top", "labelOffset": -19, "offset": 3, "tickSize": 8, "labelPadding": 2}},
    "y": {"field": "r", "type": "ordinal", "sort": null, "axis": {"title": null, "offset": 6, "tickSize": 8, "labelPadding": 4}}
   },
   "layer": [
    {"mark": "rect", "encoding": {"color": {"field": "v", "type": "nominal", "scale": {"domain": [1,2,3,4,5,6,7,8,9,10], "range": ["#7b9b7b","#4f634f","#0e4519","#8399c3","#5e6e8b","#222c6a","#f2f0f7","#cdc2e1","#948ca2","#b4b9bd"]}, "legend": {"title": null, "labelExpr": "['0 : 0.2','0.2 : 0.3','0.3 : 0.6','0.6 : 1.1','1.1 : 2.1','2.1 : 4','4 : 7.6','7.6 : 15.6','15.6 : 31.2','31.2 : 213.7'][datum.value - 1]"}}}},
    {"mark": {"type": "text", "fontSize": 17}, "encoding": {"text": {"field": "v", "type": "quantitative"}, "color": {"condition": {"test": "datum.v <= 6", "value": "#f4f4f4"}, "value": "#1e1e1e"}}}
   ]
  },
  {
   "data": {"name": "B10"}, "title": "2010", "width": 421, "height": 465,
   "encoding": {
    "x": {"field": "a", "type": "ordinal", "sort": null, "axis": {"title": "Age group", "titleX": -40, "titlePadding": 12, "labelAngle": 45, "labelAlign": "left", "labelBaseline": "top", "labelOffset": -19, "offset": 3, "tickSize": 8, "labelPadding": 2}},
    "y": {"field": "r", "type": "ordinal", "sort": null, "axis": null}
   },
   "layer": [
    {"mark": "rect", "encoding": {"color": {"field": "v", "type": "nominal", "scale": {"domain": [1,2,3,4,5,6,7,8,9,10], "range": ["#7b9b7b","#4f634f","#0e4519","#8399c3","#5e6e8b","#222c6a","#f2f0f7","#cdc2e1","#948ca2","#b4b9bd"]}, "legend": {"title": null, "labelExpr": "['0 : 0.2','0.2 : 0.3','0.3 : 0.6','0.6 : 1.1','1.1 : 2.1','2.1 : 4','4 : 7.6','7.6 : 15.6','15.6 : 31.2','31.2 : 213.7'][datum.value - 1]"}}}},
    {"mark": {"type": "text", "fontSize": 17}, "encoding": {"text": {"field": "v", "type": "quantitative"}, "color": {"condition": {"test": "datum.v <= 6", "value": "#f4f4f4"}, "value": "#1e1e1e"}}}
   ]
  }
 ]
}
]
}
